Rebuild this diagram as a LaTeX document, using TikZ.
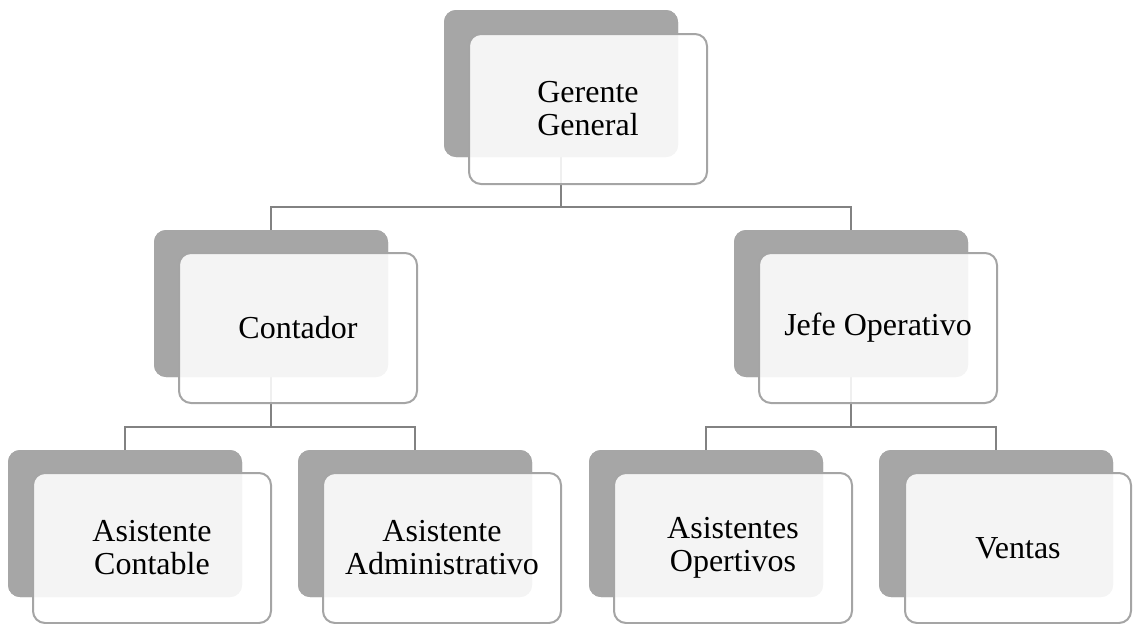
\documentclass[tikz,border=0pt]{standalone}
\usepackage{fontspec}
\setmainfont{Liberation Serif}
\begin{document}
\begin{tikzpicture}[x=1pt,y=-1pt,
  backbox/.style={fill=backgray,rounded corners=12pt,minimum width=234pt,minimum height=147pt,inner sep=0pt},
  frontbox/.style={draw=bordergray,line width=2pt,fill=white,fill opacity=0.88,text opacity=1,rounded corners=12pt,minimum width=238pt,minimum height=150pt,inner sep=0pt,align=center,font=\fontsize{32}{33}\selectfont},
  link/.style={draw=linegray,line width=2pt}
]
\definecolor{backgray}{HTML}{A6A6A6}
\definecolor{bordergray}{HTML}{A5A5A5}
\definecolor{linegray}{HTML}{828282}
\useasboundingbox (0,0) rectangle (1133,624);
% back boxes
\node[backbox] (ggb) at (561,83.5) {};
\node[backbox] (cb) at (271,303.5) {};
\node[backbox] (jb) at (851,303.5) {};
\node[backbox] (acb) at (125,523.5) {};
\node[backbox] (aab) at (415,523.5) {};
\node[backbox] (aob) at (706,523.5) {};
\node[backbox] (vb) at (996,523.5) {};
% bus coordinates
\coordinate (bus1) at (561,207);
\coordinate (bus2) at (271,427);
\coordinate (bus3) at (851,427);
% connectors
\draw[link] (ggb.south) -- (bus1);
\draw[link] (bus1) -| (cb.north);
\draw[link] (bus1) -| (jb.north);
\draw[link] (cb.south) -- (bus2);
\draw[link] (bus2) -| (acb.north);
\draw[link] (bus2) -| (aab.north);
\draw[link] (jb.south) -- (bus3);
\draw[link] (bus3) -| (aob.north);
\draw[link] (bus3) -| (vb.north);
% redraw back boxes over connectors
\node[backbox] at (ggb) {};
\node[backbox] at (cb) {};
\node[backbox] at (jb) {};
\node[backbox] at (acb) {};
\node[backbox] at (aab) {};
\node[backbox] at (aob) {};
\node[backbox] at (vb) {};
% front boxes
\node[frontbox] (gg) at (588,109) {Gerente\\General};
\node[frontbox] (c) at (298,328) {Contador};
\node[frontbox] (j) at (878,328) {Jefe Operativo};
\node[frontbox] (ac) at (152,548) {Asistente\\Contable};
\node[frontbox] (aa) at (442,548) {Asistente\\Administrativo};
\node[frontbox] (ao) at (733,548) {Asistentes\\Opertivos};
\node[frontbox,minimum width=226pt] (v) at (1018,548) {Ventas};
\end{tikzpicture}
\end{document}
